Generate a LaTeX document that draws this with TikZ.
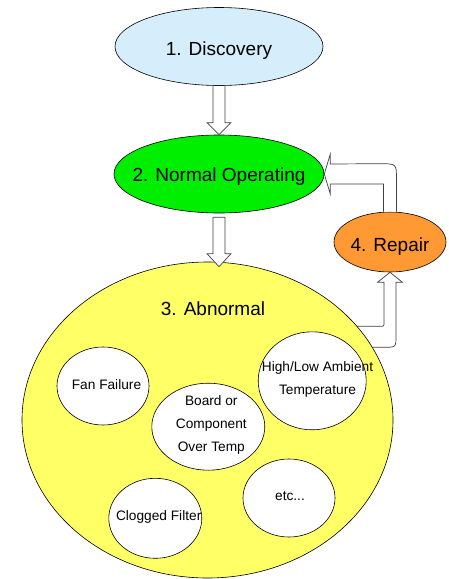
\documentclass[tikz,border=0pt]{standalone}
\usepackage{fontspec}
\setmainfont{Liberation Sans}
\usetikzlibrary{shapes.geometric, calc}
\definecolor{discblue}{HTML}{D6EEFB}
\definecolor{normgreen}{HTML}{00EE00}
\definecolor{repairorange}{HTML}{FF9933}
\definecolor{abnyellow}{HTML}{FFFF66}
\begin{document}
\begin{tikzpicture}[
        x=1pt, y=-1pt,
        stage/.style={draw, ellipse, inner sep=0pt, line width=0.6pt},
        bubble/.style={draw, ellipse, fill=white, inner sep=0pt, line width=0.6pt},
        big/.style={font=\fontsize{19}{23}\selectfont},
        small/.style={font=\fontsize{13.7}{23}\selectfont, align=center},
        blk/.style={draw=black!75, fill=white, line width=0.7pt}
    ]
    \useasboundingbox (0,0) rectangle (448,579);

    \node[stage, fill=discblue, minimum width=208pt, minimum height=78pt,
          label={[big, yshift=-4pt]center:1. Discovery}] (disc) at (219,46.5) {};
    \node[stage, fill=normgreen, minimum width=210pt, minimum height=78pt,
          label={[big, yshift=-3pt]center:2. Normal Operating}] (norm) at (219,174) {};
    \node[stage, fill=repairorange, minimum width=112pt, minimum height=60pt,
          label={[big, yshift=-4.5pt]center:4. Repair}] (rep) at (390,242) {};

    \draw[blk] ($(rep.south)+(-50,54)$) -- ($(rep.south)+(-10,54)$)
        .. controls ($(rep.south)+(-6,54)$) .. ($(rep.south)+(-6,50)$)
        -- ($(rep.south)+(-6,10)$) -- ++(-6.5,0) -- (rep.south) -- ++(12.5,10) -- ++(-6.5,0)
        -- ($(rep.south)+(6,63)$)
        .. controls ($(rep.south)+(6,75)$) .. ($(rep.south)+(-6,75)$)
        -- ($(rep.south)+(-30,75)$);

    \node[stage, fill=abnyellow, minimum width=371pt, minimum height=316pt,
          label={[big, xshift=5.5pt, yshift=111pt]center:3. Abnormal}] (abn) at (207.5,420) {};

    \node[bubble, minimum width=92pt, minimum height=78pt,
          label={[small, xshift=3.5pt, yshift=1.7pt]center:Fan Failure}] (fan) at (103,386) {};
    \node[bubble, minimum width=113pt, minimum height=87pt,
          label={[small, xshift=3pt, yshift=1.5pt]center:Board or\\Component\\Over Temp}] (board) at (208.3,426.7) {};
    \node[bubble, minimum width=108pt, minimum height=98pt,
          label={[small, xshift=5.3pt, yshift=1pt]center:High/Low Ambient\\Temperature}] (amb) at (312.2,380.8) {};
    \node[bubble, minimum width=92pt, minimum height=78pt,
          label={[small, xshift=1pt, yshift=1.5pt]center:etc...}] (etc) at (289,498) {};
    \node[bubble, minimum width=93pt, minimum height=80pt,
          label={[small, xshift=3.4pt, yshift=1.2pt]center:Clogged Filter}] (clog) at (155.3,518.3) {};

    \draw[blk] ($(disc.south)+(-6,0)$) -- ($(norm.north)+(-6,-12)$) -- ++(-6,0) -- (norm.north)
        -- ++(12,-12) -- ++(-6,0) -- ($(disc.south)+(6,0)$);
    \draw[blk] ($(norm.south)+(-6,4)$) -- ($(norm.south |- abn.north)+(-6,-8)$) -- ++(-6,0)
        -- ($(norm.south |- abn.north)+(0,5)$) -- ++(12,-13) -- ++(-6,0)
        -- ($(norm.south)+(6,4)$) -- cycle;
    \draw[blk] ($(rep.north)+(-6.5,0)$) |- ($(norm.east)+(6,10)$) -- ++(0,10) -- (norm.east)
        -- ++(6,-20) -- ++(0,10) -- ($(rep.north)+(-10,-48)$)
        .. controls ($(rep.north)+(6.5,-48)$) .. ($(rep.north)+(6.5,-32)$)
        -- ($(rep.north)+(6.5,0)$);
\end{tikzpicture}
\end{document}
